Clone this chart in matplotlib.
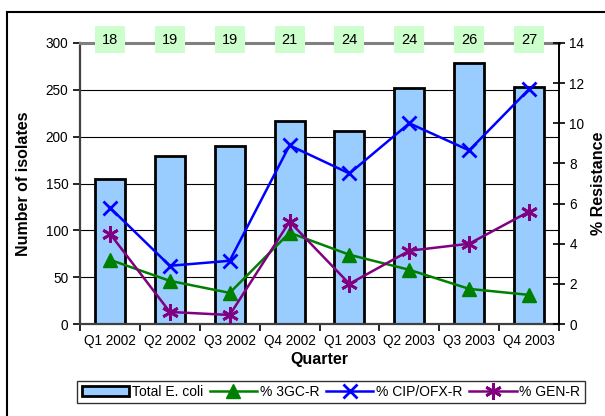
import matplotlib.pyplot as plt
from matplotlib.patches import Rectangle
import numpy as np

plt.rcParams['font.family'] = ['Liberation Sans', 'DejaVu Sans']

quarters = ["Q1 2002", "Q2 2002", "Q3 2002", "Q4 2002",
            "Q1 2003", "Q2 2003", "Q3 2003", "Q4 2003"]
total_ecoli = [155, 179, 190, 217, 206, 252, 279, 253]
pct_3gc = [3.2, 2.15, 1.55, 4.55, 3.45, 2.7, 1.75, 1.45]
pct_cip = [5.8, 2.9, 3.15, 8.9, 7.5, 10.0, 8.65, 11.7]
pct_gen = [4.5, 0.6, 0.45, 5.1, 2.0, 3.65, 4.0, 5.6]
n_labs = [18, 19, 19, 21, 24, 24, 26, 27]

x = np.arange(len(quarters))

fig = plt.figure(figsize=(6.05, 4.16), dpi=100)
ax = fig.add_axes([80 / 605, 1 - 324 / 416, 479 / 605, 281 / 416])

# bars on the left axis
ax.bar(x, total_ecoli, width=0.5, color="#99CCFF", edgecolor="black",
       linewidth=2, zorder=2, label="Total E. coli")
ax.set_xlim(-0.5, len(quarters) - 0.5)
ax.set_ylim(0, 300)
ax.set_yticks(range(0, 301, 50))
ax.yaxis.grid(True, color="black", linewidth=0.8, zorder=0)
ax.set_axisbelow(True)

ax.spines["right"].set_visible(False)
ax.spines["top"].set_color("#808080")
ax.spines["top"].set_linewidth(2.2)
ax.spines["left"].set_color("#404040")
ax.spines["left"].set_linewidth(1.6)
ax.spines["bottom"].set_color("#404040")
ax.spines["bottom"].set_linewidth(1.6)

ax.set_xticks(x)
ax.set_xticklabels(quarters, fontsize=9.8)
ax.set_xticks(np.arange(-0.5, len(quarters), 1), minor=True)
ax.tick_params(axis="x", which="major", length=0, pad=7)
ax.tick_params(axis="x", which="minor", length=5, width=1.2, direction="out")
ax.tick_params(axis="y", length=5, width=1.2, direction="out", labelsize=9.8)

ax.set_xlabel("Quarter", fontsize=11.5, fontweight="bold")
ax.xaxis.set_label_coords(0.5, -0.1)
ax.set_ylabel("Number of isolates", fontsize=11.5, fontweight="bold")
ax.yaxis.set_label_coords(-0.102, 0.5)

# resistance percentages on the right axis
ax2 = ax.twinx()
ax2.set_ylim(0, 14)
ax2.set_yticks(range(0, 15, 2))
for s in ["top", "left", "bottom"]:
    ax2.spines[s].set_visible(False)
ax2.spines["right"].set_linewidth(1.4)
ax2.tick_params(axis="y", direction="inout", length=8, width=1.2, labelsize=9.8)

l1, = ax2.plot(x, pct_3gc, color="#008000", lw=1.8, marker="^", ms=10,
               label="% 3GC-R")
l2, = ax2.plot(x, pct_cip, color="#0000FF", lw=1.8, marker="x", ms=10,
               mew=2, label="% CIP/OFX-R")
l3, = ax2.plot(x, pct_gen, color="#800080", lw=1.8, marker=(6, 2, 0), ms=12,
               mew=2, label="% GEN-R")
ax2.set_ylabel("% Resistance", fontsize=11.5, fontweight="bold")
ax2.yaxis.set_label_coords(1.067, 0.5)

# number of reporting labs above each quarter
for xi, n in zip(x, n_labs):
    ax.add_patch(Rectangle((xi - 0.25, 289.2), 0.5, 28.8, facecolor="#CCFFCC",
                           edgecolor="none", zorder=4, clip_on=False))
    ax.text(xi, 303.6, str(n), ha="center", va="center", fontsize=10.5,
            zorder=5, clip_on=False)

bars = ax.containers[0]
leg = fig.legend([bars, l1, l2, l3],
                 ["Total E. coli", "% 3GC-R", "% CIP/OFX-R", "% GEN-R"],
                 loc="center", bbox_to_anchor=(331 / 605, 1 - 392 / 416),
                 ncol=4, fontsize=10, frameon=True, fancybox=False,
                 edgecolor="black", handlelength=3.4, columnspacing=0.5,
                 handletextpad=0.2, borderpad=0.3)
leg.get_frame().set_linewidth(1.0)

# outer chart border
fig.add_artist(Rectangle((7 / 605, -0.1), 1.0, 1 - 12 / 416 + 0.1,
                         transform=fig.transFigure, fill=False,
                         edgecolor="black", linewidth=1.5))

fig.savefig("out.png", dpi=100)
